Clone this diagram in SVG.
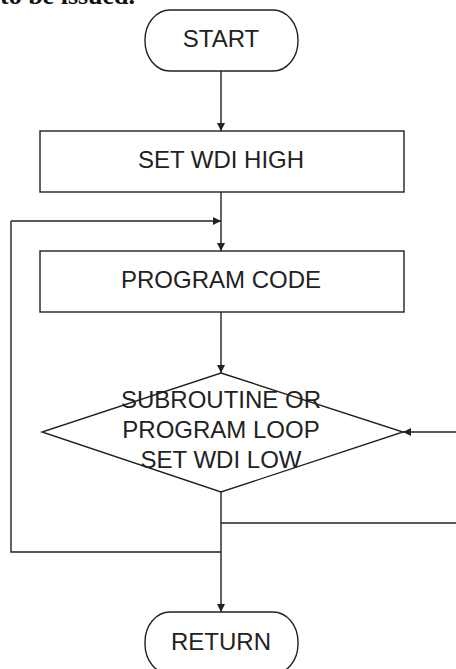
<svg xmlns="http://www.w3.org/2000/svg" width="456" height="669" viewBox="0 0 456 669">
<style>
.s{fill:#fff;stroke:#222;stroke-width:1.4}
.c{fill:none;stroke:#222;stroke-width:1.4}
.t{font-family:"Liberation Sans",Arial,sans-serif;font-size:24px;fill:#222;text-anchor:middle}
</style>
<defs>
<marker id="a" viewBox="0 0 10 10" refX="10" refY="5" markerWidth="8" markerHeight="8" markerUnits="userSpaceOnUse" orient="auto">
<path d="M0,0 L10,5 L0,10 z" fill="#222"/>
</marker>
</defs>
<rect width="456" height="669" fill="#fff"/>
<text x="0" y="4" font-family="Liberation Serif,serif" font-weight="bold" font-size="26" fill="#111">to be issued.</text>
<g id="connectors">
<path class="c" d="M221,71 V131" marker-end="url(#a)"/>
<path class="c" d="M221,192 V251" marker-end="url(#a)"/>
<path class="c" d="M11,221 H221" marker-end="url(#a)"/>
<path class="c" d="M221,312 V373" marker-end="url(#a)"/>
<path class="c" d="M456,432 H403" marker-end="url(#a)"/>
<path class="c" d="M221,492 V612" marker-end="url(#a)"/>
<path class="c" d="M221,523 H456"/>
<path class="c" d="M221,552 H11 V221"/>
</g>
<g id="start">
<rect class="s" x="145" y="10" width="153" height="61" rx="25" ry="30"/>
<text class="t" x="221" y="47">START</text>
</g>
<g id="setHigh">
<rect class="s" x="40" y="131" width="364" height="61"/>
<text class="t" x="221" y="168">SET WDI HIGH</text>
</g>
<g id="programCode">
<rect class="s" x="40" y="251" width="364" height="61"/>
<text class="t" x="221" y="288">PROGRAM CODE</text>
</g>
<g id="decision">
<polygon class="s" points="221,373 403,432 221,492 42,432"/>
<text class="t" x="221" y="408">SUBROUTINE OR</text>
<text class="t" x="221" y="438">PROGRAM LOOP</text>
<text class="t" x="221" y="468">SET WDI LOW</text>
</g>
<g id="return">
<rect class="s" x="145" y="612" width="153" height="62" rx="25" ry="30"/>
<text class="t" x="221" y="650">RETURN</text>
</g>
</svg>
